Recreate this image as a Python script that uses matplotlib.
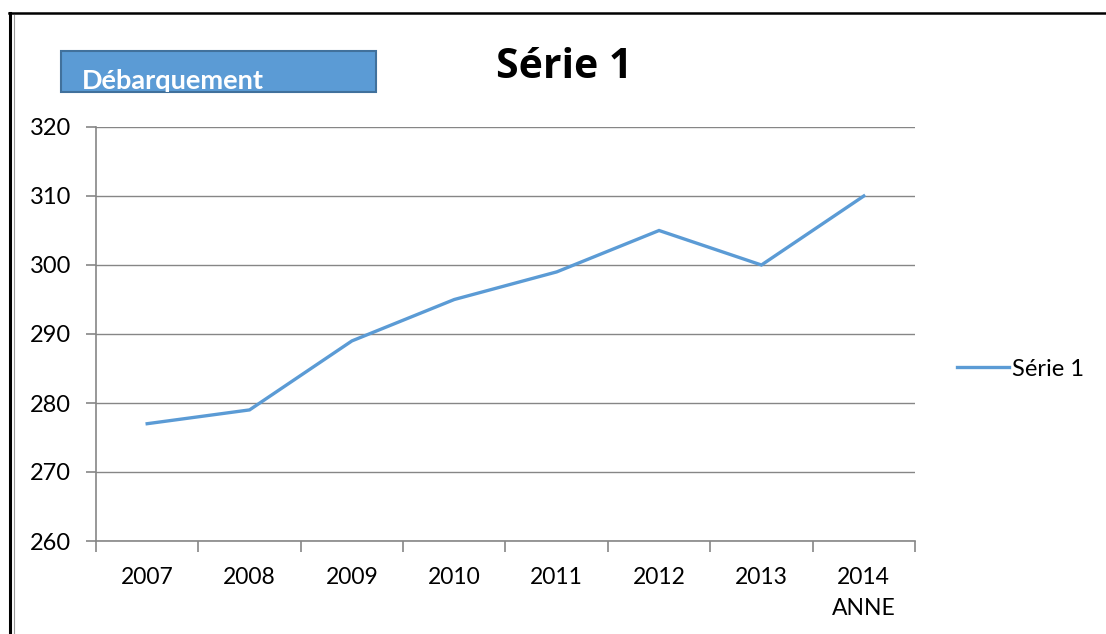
import matplotlib
matplotlib.use("Agg")
import matplotlib.pyplot as plt
from matplotlib.patches import Rectangle
from matplotlib.lines import Line2D

years = ["2007", "2008", "2009", "2010", "2011", "2012", "2013", "2014"]
values = [277, 279, 289, 295, 299, 305, 300, 310]
series_name = "Série 1"
x_title = "ANNE"
box_label = "Débarquement"
y_ticks = [260, 270, 280, 290, 300, 310, 320]

plt.rcParams['font.family'] = ['Lato', 'DejaVu Sans']
W, H = 1106, 634
fig = plt.figure(figsize=(W / 100, H / 100), dpi=100)
fig.patch.set_facecolor("white")

ax = fig.add_axes([96 / W, 1 - 541 / H, (915 - 96) / W, (541 - 127) / H])
xs = list(range(len(years)))
line, = ax.plot(xs, values, color="#5B9BD5", lw=2.4, solid_joinstyle="miter", label=series_name)

gray = "#868686"
ax.set_xlim(-0.5, len(years) - 0.5)
ax.set_ylim(y_ticks[0], y_ticks[-1])
ax.set_yticks(y_ticks)
ax.yaxis.grid(True, color=gray, lw=1)
ax.set_axisbelow(True)
for s in ["top", "right"]:
    ax.spines[s].set_visible(False)
for s in ["left", "bottom"]:
    ax.spines[s].set_color(gray)
    ax.spines[s].set_linewidth(1.2)

labels = list(years)
labels[-1] = labels[-1] + "\n" + x_title
ax.set_xticks(xs)
ax.set_xticklabels(labels, fontsize=16.5, linespacing=1.55, va="top")
ax.set_xticks([x - 0.5 for x in xs] + [len(years) - 0.5], minor=True)
ax.tick_params(axis="x", which="major", length=0, pad=19)
ax.tick_params(axis="x", which="minor", length=8, color=gray, width=1.2)
ax.tick_params(axis="y", length=7, color=gray, width=1.2, labelsize=17, pad=11)

# legend
leg = fig.legend(handles=[line], labels=[series_name], loc="center left",
                 bbox_to_anchor=(936 / W, 1 - 369 / H), frameon=False,
                 fontsize=17, handlelength=2.2, handletextpad=0.1)

# title
fig.text(564 / W, 1 - 67 / H, series_name, ha="center", va="center",
         fontsize=29.5, fontweight="bold", family=["Open Sans", "DejaVu Sans"])

# box
rect = Rectangle((61 / W, 1 - 92 / H), (376 - 61) / W, (92 - 51) / H,
                 transform=fig.transFigure, facecolor="#5B9BD5",
                 edgecolor="#41719C", lw=1.5)
fig.patches.append(rect)
t = fig.text(82 / W, 1 - 89 / H, box_label, ha="left", va="baseline",
             fontsize=19.5, fontweight="bold", color="white")
t.set_clip_path(rect)

# border lines
fig.add_artist(Line2D([10 / W, 10 / W], [0, 1 - 13 / H], transform=fig.transFigure, color="black", lw=2.2))
fig.add_artist(Line2D([13.5 / W, 13.5 / W], [0, 1 - 15 / H], transform=fig.transFigure, color="#9a9a9a", lw=0.8))
fig.add_artist(Line2D([9 / W, 1], [1 - 13 / H, 1 - 13 / H], transform=fig.transFigure, color="black", lw=1.8))

fig.savefig("out.png", dpi=100)
